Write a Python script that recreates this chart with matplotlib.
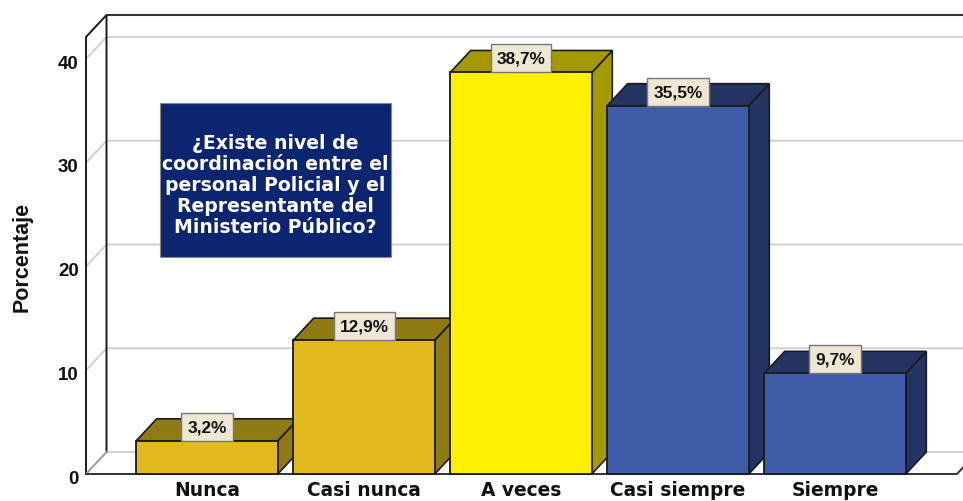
import matplotlib
matplotlib.use("Agg")
import matplotlib.pyplot as plt
from matplotlib.patches import Polygon, Rectangle
from matplotlib.transforms import ScaledTranslation

categories = ["Nunca", "Casi nunca", "A veces", "Casi siempre", "Siempre"]
values = [3.2, 12.9, 38.7, 35.5, 9.7]
labels = ["3,2%", "12,9%", "38,7%", "35,5%", "9,7%"]
yticks = [0, 10, 20, 30, 40]
front = ["#E0B91D", "#E0B91D", "#FFF000", "#3E5CA8", "#3E5CA8"]
dark = ["#8F7A14", "#8F7A14", "#A39A00", "#253563", "#253563"]
title = "¿Existe nivel de\ncoordinación entre el\npersonal Policial y el\nRepresentante del\nMinisterio Público?"

W, H = 963, 502
BASE = 475         # pixel row of value 0
px_y = 10.375      # pixels per percentage unit
px_x = 157.0       # pixels per category
x0_px = 207.0
DX = 20.5 / px_x
DY = 22 / px_y
HALF = 70.8 / px_x

fig = plt.figure(figsize=(W / 100, H / 100), dpi=100)
ax = fig.add_axes([86 / W, (H - BASE) / H, (W - 86) / W, BASE / H])
ax.set_xlim((86 - x0_px) / px_x, (W - x0_px) / px_x)
ax.set_ylim(0, BASE / px_y)
ax.patch.set_visible(False)
for s in ax.spines.values():
    s.set_visible(False)

XL = ax.get_xlim()[0]
XF = (957 - x0_px) / px_x
XR = XF + DX
TOP = (BASE - 38) / px_y
ink = "#1A1A1A"

# gridlines on side and back wall
for t in yticks:
    ax.plot([XL, XL + DX, XR], [t, t + DY, t + DY], color="#CFCFCF", lw=1.3,
            zorder=1, clip_on=False, solid_capstyle="butt")
# frame
ax.plot([XL, XL, XL + DX, XL + DX], [0, TOP, TOP + DY, DY], color=ink, lw=1.4, zorder=2, clip_on=False)
ax.plot([XL, XL + DX], [0, DY], color="#A0A0A0", lw=1.4, zorder=2, clip_on=False)
ax.plot([XL + DX, XR], [TOP + DY, TOP + DY], color="#333333", lw=1.5, zorder=2, clip_on=False)
ax.plot([XL, XF, XR], [0, 0, DY], color="#333333", lw=1.4, zorder=2, clip_on=False)

# bars
for i, (v, fc, dc) in enumerate(zip(values, front, dark)):
    z = 3 + i
    l, r = i - HALF, i + HALF
    ax.add_patch(Polygon([(r, 0), (r + DX, DY), (r + DX, v + DY), (r, v)], closed=True,
                         fc=dc, ec=ink, lw=1.2, zorder=z, clip_on=False))
    ax.add_patch(Polygon([(l, v), (l + DX, v + DY), (r + DX, v + DY), (r, v)], closed=True,
                         fc=dc, ec=ink, lw=1.2, zorder=z, clip_on=False))
    ax.add_patch(Rectangle((l, 0), r - l, v, fc=fc, ec=ink, lw=1.3, zorder=z, clip_on=False))

# value labels
fig.canvas.draw()
rend = fig.canvas.get_renderer()
for i, (v, s) in enumerate(zip(values, labels)):
    t = ax.text(i, v + 14 / px_y, s, ha="center", va="center", fontsize=12.4,
                fontfamily="Liberation Sans", fontweight="bold", color="#111111", zorder=21)
    w = t.get_window_extent(rend).width + 12
    ax.add_patch(Rectangle((i - w / 2 / px_x, v), w / px_x, 28 / px_y, fc="#EDE7D3", ec="#777777",
                           lw=1.0, zorder=20, clip_on=False))

# title box
bx0, bx1 = (160 - x0_px) / px_x, (391 - x0_px) / px_x
by0, by1 = (BASE - 258) / px_y, (BASE - 104) / px_y
ax.add_patch(Rectangle((bx0, by0), bx1 - bx0, by1 - by0, fc="#0B2570", ec="#8A8A8A", lw=0.8, zorder=15))
ax.text((bx0 + bx1) / 2, (BASE - 185.5) / px_y, title, ha="center", va="center", color="white",
        fontsize=13.6, fontweight="bold", fontfamily="DejaVu Sans", linespacing=1.14, zorder=16)

# axes text
ax.set_yticks(yticks)
ax.set_yticklabels([str(t) for t in yticks], fontfamily="Liberation Sans", fontweight="bold",
                   fontsize=13.5, color="#111111", va="center_baseline")
ax.set_xticks(range(len(categories)))
ax.set_xticklabels(categories, fontfamily="DejaVu Sans", fontweight="bold", fontsize=13.4, color="#111111")
ax.tick_params(axis="y", length=0, pad=5.2)
ax.tick_params(axis="x", length=0, pad=4.6)
shift = ScaledTranslation(0, -1.5 / 72, fig.dpi_scale_trans)
for lab in ax.get_yticklabels():
    lab.set_transform(lab.get_transform() + shift)
fig.text(22 / W, (H - 257) / H, "Porcentaje", rotation=90, ha="center", va="center",
         fontsize=15.5, fontfamily="Liberation Sans", fontweight="bold", color="#111111")

fig.savefig("out.png", dpi=100)
